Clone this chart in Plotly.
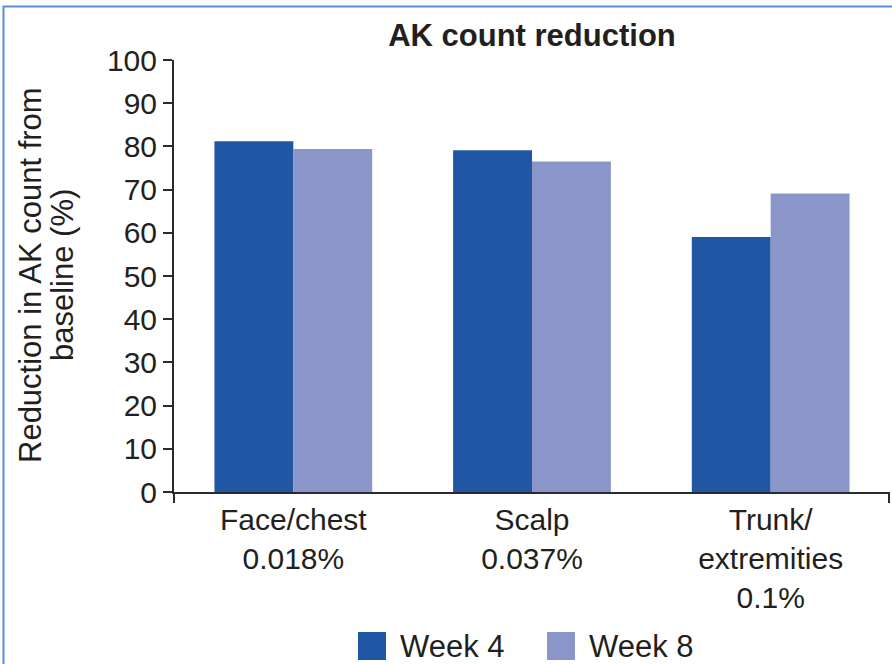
import plotly.graph_objects as go

# Data
categories = ["Face/chest<br>0.018%", "Scalp<br>0.037%", "Trunk/<br>extremities<br>0.1%"]
week4 = [81.2, 79.1, 59.0]
week8 = [79.4, 76.5, 69.1]
series_names = ["Week 4", "Week 8"]
y_ticks = list(range(0, 101, 10))

COL_W4 = "#2156a5"
COL_W8 = "#8a96c9"
TXT = "#231f20"
AXIS = "#2b2b2b"
BORDER = "#5b8ed8"
FONT = "Liberation Sans, Arial, sans-serif"

W, H = 892, 664
L, R, T, B = 174, 2, 60, 172
PW, PH = W - L - R, H - T - B


def px(x):
    return (x - L) / PW


def py(y):
    return (H - B - y) / PH


fig = go.Figure()
fig.add_trace(go.Bar(x=categories, y=week4, name=series_names[0],
                     marker=dict(color=COL_W4, line=dict(width=0))))
fig.add_trace(go.Bar(x=categories, y=week8, name=series_names[1],
                     marker=dict(color=COL_W8, line=dict(width=0))))

shapes = [
    # outer frame
    dict(type="path", xref="paper", yref="paper",
         path=f"M {px(3.5)} {py(1000)} L {px(3.5)} {py(6.5)} L {px(1200)} {py(6.5)}",
         line=dict(color=BORDER, width=2)),
    # axis line extension below zero and end tick
    dict(type="line", xref="paper", yref="paper", x0=0, x1=0, y0=0, y1=py(503),
         line=dict(color=AXIS, width=2)),
    dict(type="line", xref="paper", yref="paper", x0=px(889), x1=px(889), y0=0, y1=py(503),
         line=dict(color=AXIS, width=2)),
    # legend swatches
    dict(type="rect", xref="paper", yref="paper", x0=px(358), x1=px(386), y0=py(660), y1=py(632),
         fillcolor=COL_W4, line=dict(width=0)),
    dict(type="rect", xref="paper", yref="paper", x0=px(547), x1=px(575), y0=py(660), y1=py(632),
         fillcolor=COL_W8, line=dict(width=0)),
]

annotations = [
    dict(text="Reduction in AK count from", xref="paper", yref="paper", x=px(30), y=py(275),
         textangle=-90, showarrow=False, font=dict(size=31, color=TXT, family=FONT),
         xanchor="center", yanchor="middle"),
    dict(text="baseline (%)", xref="paper", yref="paper", x=px(62), y=py(275),
         textangle=-90, showarrow=False, font=dict(size=31, color=TXT, family=FONT),
         xanchor="center", yanchor="middle"),
    dict(text=series_names[0], xref="paper", yref="paper", x=px(398), y=py(646),
         showarrow=False, font=dict(size=31, color=TXT, family=FONT),
         xanchor="left", yanchor="middle"),
    dict(text=series_names[1], xref="paper", yref="paper", x=px(587), y=py(646),
         showarrow=False, font=dict(size=31, color=TXT, family=FONT),
         xanchor="left", yanchor="middle"),
]

fig.update_layout(
    width=W, height=H,
    margin=dict(l=L, r=R, t=T, b=B, pad=0),
    paper_bgcolor="white", plot_bgcolor="white",
    barmode="group", bargap=0.339, bargroupgap=0,
    showlegend=False,
    title=dict(text="<b>AK count reduction</b>", x=0.5, xref="paper", xanchor="center",
               y=1 - 35 / H, yref="container", yanchor="middle",
               font=dict(size=31, color=TXT, family=FONT)),
    font=dict(family=FONT, color=TXT, size=30),
    shapes=shapes,
    annotations=annotations,
)

fig.update_xaxes(showline=True, linecolor=AXIS, linewidth=2, ticks="", showgrid=False,
                 tickfont=dict(size=30, color=TXT, family=FONT), range=[-0.5, 2.5], zeroline=False)
fig.update_yaxes(range=[0, 100], tickvals=y_ticks, showline=True, linecolor=AXIS, linewidth=2,
                 ticks="outside", ticklen=9, tickwidth=2, tickcolor=AXIS, showgrid=False,
                 zeroline=False, tickfont=dict(size=30, color=TXT, family=FONT))

fig.write_html("out.html")
